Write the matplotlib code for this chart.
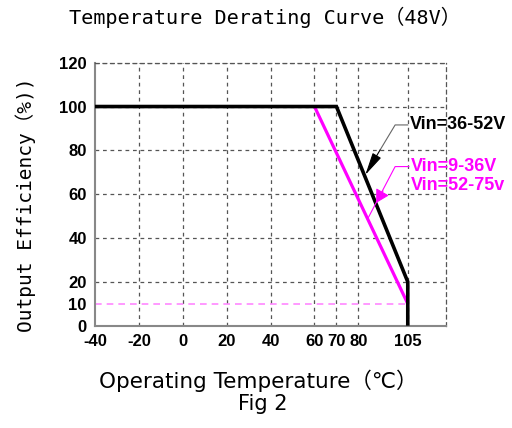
import numpy as np
import matplotlib
matplotlib.use("Agg")
import matplotlib.pyplot as plt

# ---- data ----
black_x = [-40, 70, 105, 105]
black_y = [100, 100, 20, 0]
mag_x = [60, 105]
mag_y = [100, 10]
pink_x = [-40, 105]
pink_y = [10, 10]
xticks = [-40, -20, 0, 20, 40, 60, 70, 80, 105]
yticks = [0, 10, 20, 40, 60, 80, 100, 120]
xgrid = [-20, 0, 20, 40, 60, 70, 80, 105]
ygrid = [20, 40, 60, 80, 100, 120]
title = "Temperature Derating Curve（48V）"
ylabel = "Output Efficiency（%))"
xlabel = "Operating Temperature（℃）"
caption = "Fig 2"
label_black = "Vin=36-52V"
label_mag = "Vin=9-36V\nVin=52-75v"


def fwd(x):
    x = np.asarray(x, dtype=float)
    return np.where(x <= 80, x, 80 + (x - 80) * 0.9)


def inv(s):
    s = np.asarray(s, dtype=float)
    return np.where(s <= 80, s, 80 + (s - 80) / 0.9)


fig = plt.figure(figsize=(5.12, 4.28), dpi=100)
ax = fig.add_axes([95 / 512, 1 - 325.7 / 428, (445.7 - 95) / 512, (325.7 - 62.7) / 428])
ax.set_xscale("function", functions=(fwd, inv))
ax.set_xlim(-40, 124.2)
ax.set_ylim(0, 120)

gcol = "#555555"
for gx in xgrid:
    ax.axvline(gx, color=gcol, lw=0.9, ls=(0, (3, 3)), zorder=1)
for gy in ygrid:
    ax.axhline(gy, color=gcol, lw=0.9, ls=(0, (3, 3)), zorder=1)

ax.plot(pink_x, pink_y, color="#ff88ff", lw=1.2, ls=(0, (4, 3)), zorder=2)
ax.plot(mag_x, mag_y, color="#ff00ff", lw=2.3, zorder=3, solid_capstyle="butt")
ax.plot(black_x, black_y, color="black", lw=2.6, zorder=4, solid_joinstyle="miter", solid_capstyle="butt")

for s in ["top", "right"]:
    ax.spines[s].set_linestyle((0, (3, 3)))
    ax.spines[s].set_color(gcol)
    ax.spines[s].set_linewidth(0.9)
for s in ["left", "bottom"]:
    ax.spines[s].set_color("#888888")
    ax.spines[s].set_linewidth(1.5)

ax.set_xticks(xticks)
ax.set_xticklabels([str(t) for t in xticks])
ax.set_yticks(yticks)
ax.set_yticklabels([str(t) for t in yticks])
ax.tick_params(length=0, pad=6)
for lab in ax.get_xticklabels() + ax.get_yticklabels():
    lab.set_fontfamily("Liberation Sans")
    lab.set_fontweight("bold")
    lab.set_fontsize(12)

# annotations
ax.text(106.0, 92.0, label_black, fontsize=13, fontweight="bold", family="Liberation Sans",
        color="black", va="center", ha="left")
ax.plot([105, 98.6, 91.0], [91.6, 91.6, 80.2], color="#666666", lw=0.8, zorder=5)
ax.annotate("", xy=(83.5, 68.8), xytext=(91.0, 80.2),
            arrowprops=dict(arrowstyle="-|>,head_length=1.4,head_width=0.3",
                            color="black", lw=0.8, shrinkA=0, shrinkB=0), zorder=6)

ax.text(106.5, 68.2, label_mag, fontsize=13, fontweight="bold", family="Liberation Sans",
        color="#ff00ff", va="center", ha="left", linespacing=1.12)
ax.plot([105.5, 98.6, 84.9], [72.6, 72.6, 49.1], color="#ff00ff", lw=0.8, zorder=5)
ax.annotate("", xy=(89.0, 56.0), xytext=(92.5, 61.5),
            arrowprops=dict(arrowstyle="-|>,head_length=0.8,head_width=0.45",
                            color="#ff00ff", lw=0.8, shrinkA=0, shrinkB=0), zorder=6)

mono = ["DejaVu Sans Mono", "Noto Sans CJK SC"]
fig.text(265 / 512, 1 - 17 / 428, title, fontsize=14.5, family=mono, ha="center", va="center")
fig.text(26 / 512, 1 - 205 / 428, ylabel, fontsize=14, family=mono, ha="center", va="center",
         rotation=90)
sans = ["DejaVu Sans", "Noto Sans CJK SC"]
fig.text(258 / 512, 1 - 381 / 428, xlabel, fontsize=15.5, family=sans,
         ha="center", va="center")
fig.text(263 / 512, 1 - 404 / 428, caption, fontsize=15, family=sans,
         ha="center", va="center")

fig.savefig("out.png", dpi=100)
